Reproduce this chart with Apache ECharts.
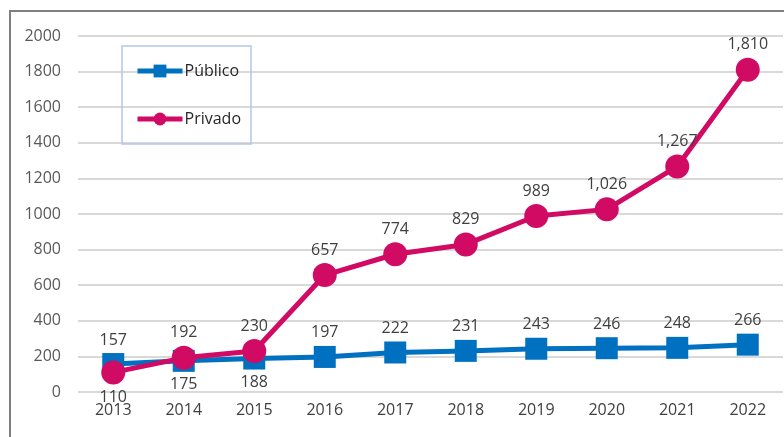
<!DOCTYPE html>
<html>
<head>
<meta charset="utf-8">
<title>Público vs Privado</title>
<script src="https://cdn.jsdelivr.net/npm/echarts@6/dist/echarts.min.js"></script>
<style>
  html, body { margin: 0; padding: 0; background: #fff; }
  #main { width: 784px; height: 437px; }
</style>
</head>
<body>
<div id="main"></div>
<script>
// datos del gráfico
var years = ['2013', '2014', '2015', '2016', '2017', '2018', '2019', '2020', '2021', '2022'];
var publico = [157, 175, 188, 197, 222, 231, 243, 246, 248, 266];
var privado = [110, 192, 230, 657, 774, 829, 989, 1026, 1267, 1810];
// índices de etiquetas que van debajo del punto
var publicoBelow = [1, 2];
var privadoBelow = [0];

var FONT = 'Open Sans';
var BLUE = '#0070C0';
var PINK = '#D10A64';

function fmt(v) {
    return v.toLocaleString('en-US');
}

function buildData(values, below) {
    return values.map(function (v, i) {
        if (below.indexOf(i) >= 0) {
            return {value: v, label: {position: 'bottom'}};
        }
        return v;
    });
}

var myChart = echarts.init(document.getElementById('main'));
var option = {
    animation: false,
    textStyle: {fontFamily: FONT},
    graphic: [
        {
            type: 'rect',
            shape: {x: 10, y: 11, width: 900, height: 600},
            style: {fill: 'none', stroke: '#7f7f7f', lineWidth: 2},
            silent: true
        }
    ],
    legend: {
        orient: 'vertical',
        left: 122,
        top: 46,
        padding: [17, 10, 17, 13],
        itemGap: 32,
        itemWidth: 45,
        itemHeight: 16,
        borderColor: '#B4C7E7',
        borderWidth: 1.5,
        lineStyle: {width: 5},
        textStyle: {fontFamily: FONT, fontSize: 16, color: '#262626', padding: [0, 0, 0, -3]},
        data: ['Público', 'Privado']
    },
    grid: {left: 78, right: 1, top: 36, bottom: 45},
    xAxis: {
        type: 'category',
        data: years,
        axisLine: {show: false},
        axisTick: {show: false},
        axisLabel: {fontFamily: FONT, fontSize: 16, color: '#404040', margin: 10}
    },
    yAxis: {
        type: 'value',
        min: 0,
        max: 2000,
        interval: 200,
        axisLine: {show: false},
        axisTick: {show: false},
        axisLabel: {
            fontFamily: FONT, fontSize: 16, color: '#595959', margin: 17,
            formatter: function (v) { return String(v); }
        },
        splitLine: {lineStyle: {color: '#d9d9d9', width: 2}}
    },
    series: [
        {
            name: 'Público',
            type: 'line',
            data: buildData(publico, publicoBelow),
            symbol: 'rect',
            symbolSize: 22,
            lineStyle: {color: BLUE, width: 5},
            itemStyle: {color: BLUE},
            label: {
                show: true,
                position: 'top',
                fontFamily: FONT,
                fontSize: 16,
                color: '#404040',
                formatter: function (p) { return fmt(p.value); }
            }
        },
        {
            name: 'Privado',
            type: 'line',
            data: buildData(privado, privadoBelow),
            symbol: 'circle',
            symbolSize: 24,
            lineStyle: {color: PINK, width: 5},
            itemStyle: {color: PINK},
            label: {
                show: true,
                position: 'top',
                fontFamily: FONT,
                fontSize: 16,
                color: '#404040',
                formatter: function (p) { return fmt(p.value); }
            }
        }
    ]
};
myChart.setOption(option);
</script>
</body>
</html>
